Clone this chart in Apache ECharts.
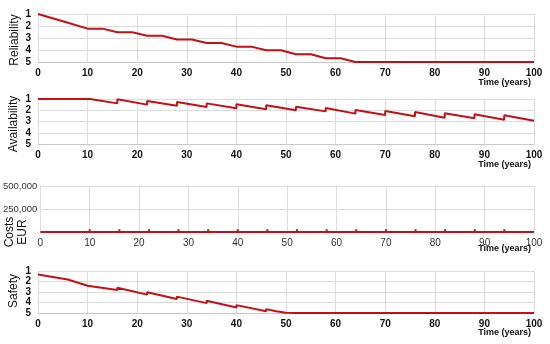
<!DOCTYPE html>
<html><head><meta charset="utf-8">
<script src="https://cdn.jsdelivr.net/npm/echarts@6/dist/echarts.min.js"></script>
<style>html,body{margin:0;padding:0;background:#fff}#c{width:550px;height:344px}</style>
</head><body><div id="c"></div>
<script>
// ---- Data ----
var relYears = [0, 5, 10, 13, 16, 19, 22, 25, 28, 31, 34, 37, 40, 43, 46, 49, 52, 55, 58, 61, 64, 100];
var relValues = [1.0, 1.6, 2.22, 2.22, 2.52, 2.52, 2.82, 2.82, 3.12, 3.12, 3.42, 3.42, 3.72, 3.72, 4.02, 4.02, 4.35, 4.35, 4.68, 4.68, 5, 5];

var avYears = [0, 10.5, 16, 16, 22, 22, 28, 28, 34, 34, 40, 40, 46, 46, 52, 52, 58, 58, 64, 64, 70, 70, 76, 76, 82, 82, 88, 88, 94, 94, 100];
var avValues = [1, 1, 1.39, 1.03, 1.5, 1.18, 1.59, 1.27, 1.71, 1.39, 1.83, 1.47, 1.92, 1.56, 2.0, 1.68, 2.1, 1.8, 2.3, 1.98, 2.42, 2.07, 2.54, 2.15, 2.66, 2.27, 2.72, 2.36, 2.84, 2.45, 2.93];

var costYears = [10, 16, 22, 28, 34, 40, 46, 52, 58, 64, 70, 76, 82, 88, 94];
var costValues = [30000, 30000, 30000, 30000, 30000, 30000, 30000, 30000, 30000, 30000, 30000, 30000, 30000, 30000, 30000];

var safYears = [0, 6, 10, 10, 16, 16, 22, 22, 28, 28, 34, 34, 40, 40, 46, 46, 48, 50, 52, 100];
var safValues = [1.34, 1.81, 2.4, 2.22, 2.81, 2.6, 3.25, 3.03, 3.66, 3.44, 4.06, 3.84, 4.47, 4.25, 4.84, 4.63, 4.84, 4.97, 5, 5];

var xTicks = [0, 10, 20, 30, 40, 50, 60, 70, 80, 90, 100];
var ratingTicks = [1, 2, 3, 4, 5];
var costTicks = [0, 250000, 500000];
var panelNames = ['Reliability', 'Availability', 'Costs\nEUR', 'Safety'];
var xAxisTitle = 'Time (years)';

// ---- Build ----
function pairs(xs, ys) { return xs.map(function (x, i) { return [x, ys[i]]; }); }
var costLine = [[0, 0]];
costYears.forEach(function (y, i) { costLine.push([y, 0], [y, costValues[i]], [y, 0]); });
costLine.push([100, 0]);

var FONT = 'Liberation Sans, Arial, sans-serif';
var RED = '#c40f18';
var GRID = '#dcdcdc';
var grids = [
  {left: 38, width: 496, top: 14, height: 48},
  {left: 38, width: 496, top: 99, height: 45},
  {left: 38, width: 496, top: 186, height: 46},
  {left: 38, width: 496, top: 271, height: 42}
];
var xAxes = grids.map(function (g, i) {
  return {
    type: 'value', gridIndex: i, min: xTicks[0], max: xTicks[xTicks.length - 1],
    interval: xTicks[1] - xTicks[0],
    axisLine: {show: true, onZero: false, lineStyle: {color: '#c8c8c8'}},
    axisTick: {show: false},
    splitLine: {show: true, lineStyle: {color: GRID, width: 1}},
    axisLabel: {margin: 6, fontFamily: FONT, fontSize: 10,
      fontWeight: i === 2 ? 'normal' : 'bold', color: i === 2 ? '#333' : '#111'}
  };
});
var yAxes = grids.map(function (g, i) {
  if (i === 2) {
    return {
      type: 'value', gridIndex: i, min: costTicks[0], max: costTicks[costTicks.length - 1],
      interval: costTicks[1] - costTicks[0],
      axisLine: {show: false}, axisTick: {show: false},
      splitLine: {show: true, lineStyle: {color: GRID}},
      axisLabel: {margin: 3, fontFamily: FONT, fontSize: 9.5, color: '#333',
        formatter: function (v) { return v === 0 ? '' : v.toLocaleString('en-US'); }}
    };
  }
  return {
    type: 'value', gridIndex: i, inverse: true, min: ratingTicks[0], max: ratingTicks[ratingTicks.length - 1],
    interval: 1,
    axisLine: {show: false}, axisTick: {show: false},
    splitLine: {show: true, lineStyle: {color: GRID}},
    axisLabel: {margin: 7, fontFamily: FONT, fontSize: 10, fontWeight: 'bold', color: '#111'}
  };
});
function lineSeries(i, data) {
  return {type: 'line', xAxisIndex: i, yAxisIndex: i, data: data, symbol: 'none',
    lineStyle: {color: RED, width: 2}, animation: false, z: 5};
}
var series = [
  lineSeries(0, pairs(relYears, relValues)),
  lineSeries(1, pairs(avYears, avValues)),
  lineSeries(2, costLine),
  lineSeries(3, pairs(safYears, safValues))
];

var nameCenters = [[15, 40], [14, 124], [16, 232], [14, 291]];
var graphics = [];
panelNames.forEach(function (n, i) {
  graphics.push({type: 'text', x: nameCenters[i][0], y: nameCenters[i][1], rotation: Math.PI / 2,
    style: {text: n, textAlign: 'center', textVerticalAlign: 'middle', font: '12px ' + FONT, fill: '#111', lineHeight: 13}});
});
var timeY = [83, 165, 249, 333];
timeY.forEach(function (y) {
  graphics.push({type: 'text', x: 531, y: y,
    style: {text: xAxisTitle, textAlign: 'right', textVerticalAlign: 'middle', font: 'bold 9px ' + FONT, fill: '#111'}});
});

var chart = echarts.init(document.getElementById('c'), null, {renderer: 'canvas'});
chart.setOption({
  animation: false,
  backgroundColor: '#fff',
  grid: grids,
  xAxis: xAxes,
  yAxis: yAxes,
  series: series,
  graphic: graphics
});
</script></body></html>
